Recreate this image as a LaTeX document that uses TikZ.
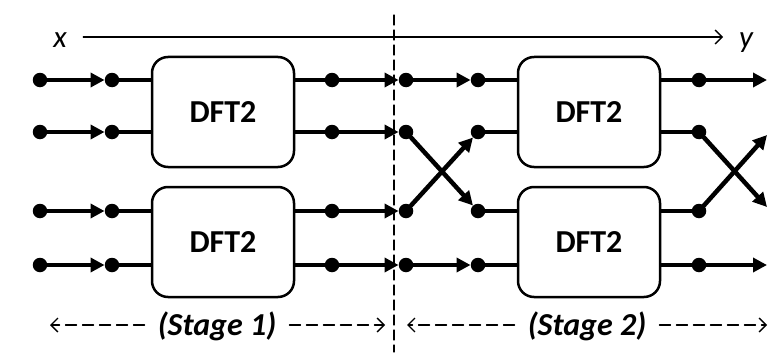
\documentclass[tikz,border=0pt]{standalone}
\usepackage{fontspec}
\setmainfont{Carlito}
\usetikzlibrary{arrows.meta,positioning}

\begin{document}
\begin{tikzpicture}[x=1pt,y=-1pt,line join=round,line cap=round,font=\fontsize{31}{36}\selectfont]
	\tikzset{dot/.style={circle,fill,inner sep=0pt,minimum size=14.5pt},
		dft/.style={draw,line width=2.5pt,rounded corners=16pt,minimum width=142pt,minimum height=110pt,font=\fontsize{32}{38}\selectfont\bfseries},
		wire/.style={line width=4.5pt},
		flow/.style={wire,-{Triangle[length=14pt,width=14pt]}},
		thinarrow/.style={line width=1.3pt,-{Straight Barb[length=7pt,width=14pt]}},
		span/.style={thinarrow,dash pattern=on 11pt off 6pt,shorten <=13pt}}
	\useasboundingbox (0,0) rectangle (784,353);
	% the two butterfly stages
	\node[dft] (dftA) at (223,112) {DFT2};
	\node[dft] (dftB) at (223,242) {DFT2};
	\node[dft] (dftC) at (589,112) {DFT2};
	\node[dft] (dftD) at (589,242) {DFT2};
	\foreach \r/\yy in {1/80,2/132,3/211,4/265} {
		\node[dot] (a\r) at (40,\yy) {};
		\node[dot] (b\r) at (112,\yy) {};
		\node[dot] (c\r) at (332,\yy) {};
		\node[dot] (d\r) at (406,\yy) {};
		\node[dot] (e\r) at (478,\yy) {};
		\node[dot] (f\r) at (699,\yy) {};
	}
	\coordinate (g1) at (767,80);
	\coordinate (g2) at (767,135);
	\coordinate (g3) at (767,207);
	\coordinate (g4) at (767,265);
	% wires
	\foreach \r/\bl/\br in {1/dftA/dftC,2/dftA/dftC,3/dftB/dftD,4/dftB/dftD} {
		\draw[flow] (a\r) -- (b\r);
		\draw[wire] (b\r) -- (b\r -| \bl.west);
		\draw[wire] (\bl.east |- c\r) -- (c\r);
		\draw[flow] (c\r) -- (d\r);
		\draw[wire] (e\r) -- (e\r -| \br.west);
		\draw[wire] (\br.east |- f\r) -- (f\r);
	}
	\draw[flow] (d1) -- (e1);
	\draw[flow] (d2) -- (e3);
	\draw[flow] (d3) -- (e2);
	\draw[flow] (d4) -- (e4);
	\draw[flow] (f1) -- (g1);
	\draw[flow] (f2) -- (g3);
	\draw[flow] (f3) -- (g2);
	\draw[flow] (f4) -- (g4);
	% x -> y axis
	\node[anchor=base] (x) at (60,48) {\itshape x};
	\node[anchor=base] (y) at (746,48) {\itshape y};
	\draw[thinarrow] (x.east |- 0,37) ++(13,0) -- (723,37);
	% stage separator
	\draw[line width=1.3pt,dash pattern=on 10pt off 5pt] (394,15) -- (394,352);
	% stage spans
	\node[anchor=base,inner sep=0pt,font=\fontsize{32}{38}\selectfont\bfseries\itshape] (s1) at (217,335) {(Stage 1)};
	\node[anchor=base,inner sep=0pt,font=\fontsize{32}{38}\selectfont\bfseries\itshape] (s2) at (587,335) {(Stage 2)};
	\coordinate (s1l) at (50,325);
	\coordinate (s1r) at (385,325);
	\coordinate (s2l) at (407,325);
	\coordinate (s2r) at (767,325);
	\draw[span] (s1.west |- s1l) -- (s1l);
	\draw[span] (s1.east |- s1r) -- (s1r);
	\draw[span] (s2.west |- s2l) -- (s2l);
	\draw[span] (s2.east |- s2r) -- (s2r);
\end{tikzpicture}
\end{document}
